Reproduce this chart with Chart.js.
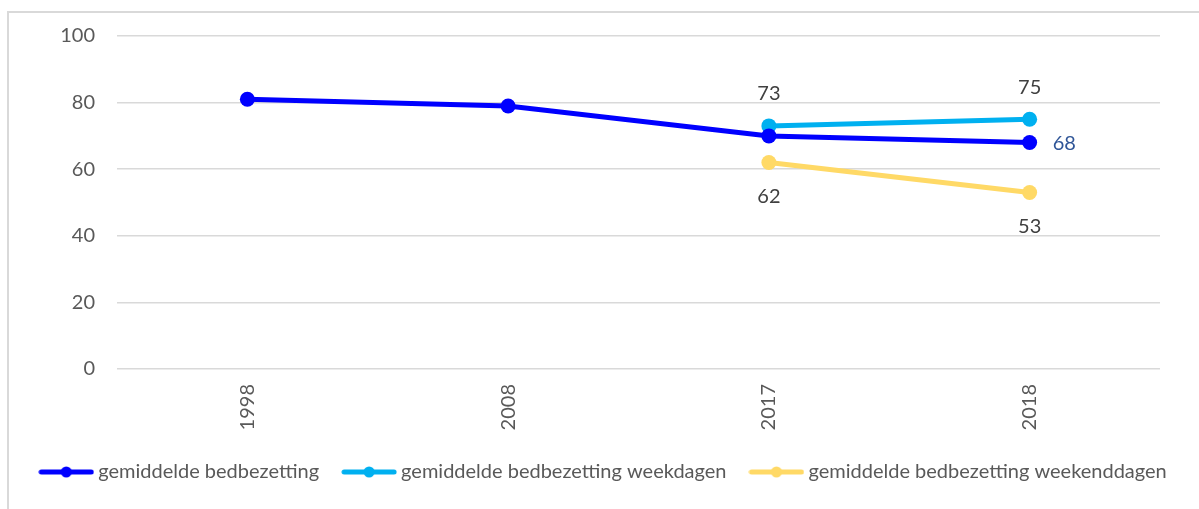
<!DOCTYPE html>
<html>
<head>
<meta charset="utf-8">
<script src="https://cdn.jsdelivr.net/npm/chart.js@4/dist/chart.umd.min.js"></script>
<style>
  html, body { margin: 0; padding: 0; background: #fff; }
  body { width: 1199px; height: 509px; position: relative; overflow: hidden; }
  #frame { position: absolute; left: 7px; top: 11px; width: 1300px; height: 600px;
           border-left: 2px solid #d9d9d9; border-top: 2px solid #d9d9d9; }
  #wrap { position: absolute; left: 0; top: 0; width: 1199px; height: 509px; }
</style>
</head>
<body>
<div id="frame"></div>
<div id="wrap"><canvas id="c" width="1199" height="509"></canvas></div>
<script>
const categories = ['1998', '2008', '2017', '2018'];
const seriesNames = ['gemiddelde bedbezetting', 'gemiddelde bedbezetting weekdagen', 'gemiddelde bedbezetting weekenddagen'];
const bedbezetting = [81, 79, 70, 68];
const weekdagen = [null, null, 73, 75];
const weekenddagen = [null, null, 62, 53];
const yTicks = [0, 20, 40, 60, 80, 100];

const colors = ['#0000FF', '#00B0F0', '#FFD966'];
const FONT = 'Lato, "Open Sans", sans-serif';

function legendIcon(color) {
  const c = document.createElement('canvas');
  c.width = 56; c.height = 14;
  const x = c.getContext('2d');
  x.strokeStyle = color; x.lineWidth = 5; x.lineCap = 'round';
  x.beginPath(); x.moveTo(3, 7); x.lineTo(53, 7); x.stroke();
  x.fillStyle = color; x.beginPath(); x.arc(28, 7, 5.5, 0, Math.PI * 2); x.fill();
  return c;
}
const icons = colors.map(legendIcon);

// which data points get a value label, and where (offsets in px from the point)
const labelSpecs = [
  { ds: 0, idx: 3, dx: 23, dy: 1, align: 'left', color: '#2F5597' },
  { ds: 1, idx: 2, dx: 0, dy: -32, align: 'center', color: '#404040' },
  { ds: 1, idx: 3, dx: 0, dy: -32, align: 'center', color: '#404040' },
  { ds: 2, idx: 2, dx: 0, dy: 34, align: 'center', color: '#404040' },
  { ds: 2, idx: 3, dx: 0, dy: 34, align: 'center', color: '#404040' }
];

const valueLabels = {
  id: 'valueLabels',
  afterDatasetsDraw(chart) {
    const ctx = chart.ctx;
    ctx.save();
    ctx.font = '20px ' + FONT;
    ctx.textBaseline = 'middle';
    labelSpecs.forEach(s => {
      const meta = chart.getDatasetMeta(s.ds);
      const pt = meta.data[s.idx];
      const v = chart.data.datasets[s.ds].data[s.idx];
      ctx.fillStyle = s.color;
      ctx.textAlign = s.align;
      ctx.fillText(String(v), pt.x + s.dx, pt.y + s.dy);
    });
    ctx.restore();
  }
};

function ds(label, data, color) {
  return {
    label, data, borderColor: color, backgroundColor: color,
    borderWidth: 5, pointRadius: 7.5, pointHoverRadius: 7.5,
    pointBackgroundColor: color, pointBorderColor: color, pointBorderWidth: 0,
    spanGaps: false, tension: 0
  };
}

new Chart(document.getElementById('c'), {
  type: 'line',
  data: {
    labels: categories,
    datasets: [
      ds(seriesNames[0], bedbezetting, colors[0]),
      ds(seriesNames[1], weekdagen, colors[1]),
      ds(seriesNames[2], weekenddagen, colors[2])
    ]
  },
  options: {
    responsive: false,
    animation: false,
    layout: { padding: { left: 12, top: 36, right: 0, bottom: 17 } },
    scales: {
      x: {
        offset: true,
        grid: { display: false, drawTicks: false },
        border: { display: false },
        ticks: { color: '#595959', font: { family: FONT, size: 20 }, minRotation: 90, maxRotation: 90, padding: 15 },
        afterFit(scale) { scale.height = 65; }
      },
      y: {
        min: 0, max: 100,
        afterBuildTicks(scale) { scale.ticks = yTicks.map(v => ({ value: v })); },
        grid: { color: '#d9d9d9', lineWidth: 1.5, drawTicks: false },
        border: { display: false },
        ticks: { color: '#595959', font: { family: FONT, size: 20 }, padding: 22 },
        afterFit(scale) { scale.width = 105; }
      },
      yRight: {
        axis: 'y',
        position: 'right',
        min: 0, max: 100,
        grid: { display: false, drawTicks: false },
        border: { display: false },
        ticks: { display: false },
        afterFit(scale) { scale.width = 39; }
      }
    },
    plugins: {
      tooltip: { enabled: false },
      legend: {
        position: 'bottom',
        labels: {
          usePointStyle: true,
          pointStyleWidth: 44,
          padding: 28,
          color: '#595959',
          font: { family: FONT, size: 20 },
          generateLabels(chart) {
            const items = Chart.defaults.plugins.legend.labels.generateLabels(chart);
            items.forEach((it, i) => { it.pointStyle = icons[i]; });
            return items;
          }
        }
      }
    }
  },
  plugins: [valueLabels]
});
</script>
</body>
</html>
